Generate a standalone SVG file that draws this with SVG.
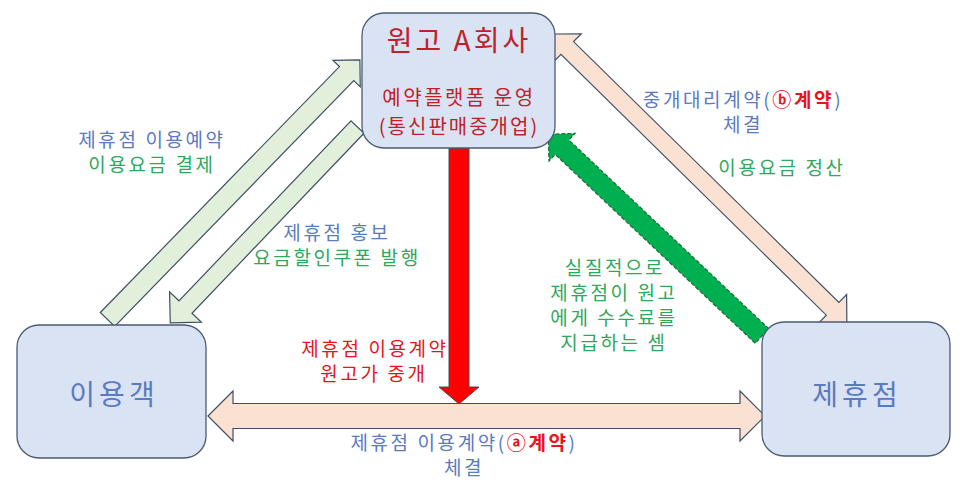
<svg xmlns="http://www.w3.org/2000/svg" width="966" height="480" viewBox="0 0 966 480">
<style>
text{font-family:"Noto Sans CJK KR","Noto Sans",sans-serif;text-anchor:middle}
.box{fill:#dae3f3;stroke:#4a5b73;stroke-width:1.3}
.lg{fill:#e2efda;stroke:#3f4f66;stroke-width:1.2}
.pe{fill:#fbe1d2;stroke:#3f4f66;stroke-width:1.2}
.bl{fill:#5a7bbf}
.gr{fill:#2ea85a}
.rd{fill:#e8141c}
.dr{fill:#c0202a}
.lab{font-size:19px;letter-spacing:2.6px}
.big{font-size:28px;letter-spacing:4px}
</style>
<rect width="966" height="480" fill="#ffffff"/>
<g id="connectors">
  <path class="lg" transform="translate(107.5,319.5) rotate(-45.8)" d="M0,-10 L343,-10 L343,-19 L362,0 L343,19 L343,10 L0,10 Z"/>
  <path class="lg" transform="translate(357.5,127) rotate(133.7)" d="M0,-9 L249,-9 L249,-22 L271,0 L249,22 L249,9 L0,9 Z"/>
  <path class="pe" transform="translate(553,34) rotate(44.5)" d="M0,0 L20,-20 L20,-9 L392,-9 L392,-20 L412,0 L392,20 L392,9 L20,9 L20,20 Z"/>
  <path transform="translate(762,336) rotate(-136.65)" d="M0,-10 L275,-10 L275,-19 L294,0 L275,19 L275,10 L0,10 Z" fill="#00b050" stroke="#1e6b3a" stroke-width="1.2" stroke-dasharray="4,2"/>
  <path class="pe" d="M208,416 L233,391 L233,403.5 L740,403.5 L740,391 L765,416 L740,441 L740,428.5 L233,428.5 L233,441 Z"/>
  <path d="M449,148 L469,148 L469,387 L479,387 L459,404 L439,387 L449,387 Z" fill="#ff0000" stroke="#4a4a5a" stroke-width="1"/>
</g>
<g id="company">
  <rect class="box" x="362" y="13" width="193" height="135" rx="22" ry="22"/>
  <text class="dr" x="459" y="51" font-size="28" letter-spacing="3">원고 A회사</text>
  <text class="dr" x="459" y="105" font-size="20" letter-spacing="2.5">예약플랫폼 운영</text>
  <text class="dr" x="459" y="134" font-size="20" letter-spacing="2">(통신판매중개업)</text>
</g>
<g id="user">
  <rect class="box" x="17" y="325" width="189" height="133" rx="22" ry="22"/>
  <text class="bl big" x="114" y="405">이용객</text>
</g>
<g id="partner">
  <rect class="box" x="762" y="322" width="188" height="134" rx="22" ry="22"/>
  <text class="bl big" x="857" y="405">제휴점</text>
</g>
<g id="labels">
  <text class="bl lab" x="152" y="147">제휴점 이용예약</text>
  <text class="gr lab" x="152" y="172">이용요금 결제</text>
  <text class="bl lab" x="337" y="240">제휴점 홍보</text>
  <text class="gr lab" x="337" y="265">요금할인쿠폰 발행</text>
  <text class="rd lab" x="375" y="356">제휴점 이용계약</text>
  <text class="rd lab" x="374" y="381">원고가 중개</text>
  <text class="lab" x="743" y="107"><tspan class="bl">중개대리계약(</tspan><tspan class="rd" font-weight="bold">ⓑ계약</tspan><tspan class="bl">)</tspan></text>
  <text class="bl lab" x="743" y="132">체결</text>
  <text class="gr lab" x="782" y="175">이용요금 정산</text>
  <text class="gr lab" x="615" y="275">실질적으로</text>
  <text class="gr lab" x="614" y="300">제휴점이 원고</text>
  <text class="gr lab" x="614" y="325">에게 수수료를</text>
  <text class="gr lab" x="614" y="350">지급하는 셈</text>
  <text class="lab" x="464" y="450"><tspan class="bl">제휴점 이용계약(</tspan><tspan class="rd" font-weight="bold">ⓐ계약</tspan><tspan class="bl">)</tspan></text>
  <text class="bl lab" x="464" y="475">체결</text>
</g>
</svg>
